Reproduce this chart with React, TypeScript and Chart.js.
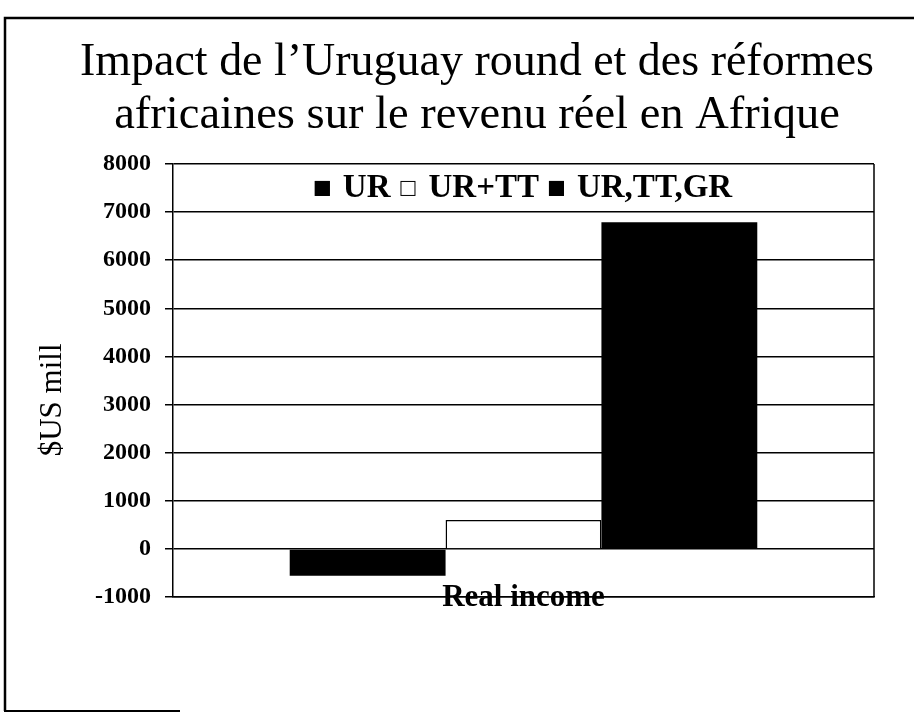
import React, { useEffect, useRef } from "react";
import { Chart, registerables } from "chart.js";

Chart.register(...registerables);

const categories = ["Real income"];
const seriesLabels = ["UR", "UR+TT", "UR,TT,GR"];
const urValues = [-560];
const urTtValues = [600];
const urTtGrValues = [6790];
const titleLines = [
  "Impact de l\u2019Uruguay round et des réformes",
  "africaines sur le revenu réel en Afrique",
];
const yAxisTitle = "$US mill";
const yMin = -1000;
const yMax = 8000;
const yStep = 1000;

const SERIF = '"Liberation Serif", "Times New Roman", serif';

const framePlugin = {
  id: "framePlugin",
  beforeDraw(chart: any) {
    const { ctx, width, height } = chart;
    ctx.save();
    ctx.fillStyle = "#fff";
    ctx.fillRect(0, 0, width, height);
    ctx.strokeStyle = "#000";
    ctx.lineWidth = 2.5;
    ctx.beginPath();
    ctx.moveTo(5, 711);
    ctx.lineTo(5, 18);
    ctx.lineTo(width, 18);
    ctx.stroke();
    ctx.lineWidth = 2;
    ctx.beginPath();
    ctx.moveTo(4, 711);
    ctx.lineTo(180, 711);
    ctx.stroke();
    ctx.restore();
  },
  afterDatasetsDraw(chart: any) {
    const { ctx, chartArea } = chart;
    ctx.save();
    ctx.strokeStyle = "#000";
    ctx.lineWidth = 1.5;
    ctx.beginPath();
    ctx.moveTo(chartArea.right, chartArea.top);
    ctx.lineTo(chartArea.right, chartArea.bottom);
    ctx.stroke();
    ctx.restore();
  },
};

const insideLegend = {
  id: "insideLegend",
  afterDraw(chart: any) {
    const { ctx, chartArea } = chart;
    ctx.save();
    ctx.font = `bold 33px ${SERIF}`;
    const box = 15;
    const gapText = 13;
    const gapItem = 10;
    const items = chart.data.datasets.map((ds: any) => ({
      label: ds.label,
      fill: ds.backgroundColor,
    }));
    const widths = items.map((it: any) => ctx.measureText(it.label).width);
    const total =
      widths.reduce((a: number, w: number) => a + box + gapText + w, 0) +
      gapItem * (items.length - 1);
    let x = (chartArea.left + chartArea.right) / 2 - total / 2;
    const baseline = chartArea.top + 33;
    items.forEach((it: any, i: number) => {
      ctx.fillStyle = it.fill;
      ctx.fillRect(x, baseline - 16, box, box);
      ctx.strokeStyle = "#000";
      ctx.lineWidth = 1;
      ctx.strokeRect(x + 0.5, baseline - 15.5, box - 1, box - 1);
      x += box + gapText;
      ctx.fillStyle = "#000";
      ctx.textBaseline = "alphabetic";
      ctx.textAlign = "left";
      ctx.fillText(it.label, x, baseline);
      x += widths[i] + gapItem;
    });
    ctx.restore();
  },
};

function ChartView() {
  const ref = useRef<HTMLCanvasElement | null>(null);
  useEffect(() => {
    if (!ref.current) return;
    const chart = new Chart(ref.current, {
      type: "bar",
      data: {
        labels: categories,
        datasets: [
          {
            label: seriesLabels[0],
            data: urValues,
            backgroundColor: "#000",
            borderColor: "#000",
            borderWidth: 0,
          },
          {
            label: seriesLabels[1],
            data: urTtValues,
            backgroundColor: "#fff",
            borderColor: "#000",
            borderWidth: 1.5,
          },
          {
            label: seriesLabels[2],
            data: urTtGrValues,
            backgroundColor: "#000",
            borderColor: "#000",
            borderWidth: 0,
          },
        ],
      },
      options: {
        responsive: false,
        animation: false,
        datasets: {
          bar: { categoryPercentage: 0.667, barPercentage: 1.0 },
        },
        layout: { padding: { left: 80, right: 40, top: 0, bottom: 0 } },
        plugins: {
          legend: { display: false },
          tooltip: { enabled: false },
          title: {
            display: true,
            text: titleLines,
            color: "#000",
            font: { family: SERIF, size: 46.5, weight: "normal", lineHeight: 1.15 },
            padding: { top: 36, bottom: 21 },
          },
        },
        scales: {
          x: {
            grid: { display: false, drawTicks: false },
            border: { display: true, color: "#000", width: 1.5 },
            ticks: {
              color: "#000",
              mirror: true,
              font: { family: SERIF, size: 31, weight: "bold" },
              padding: -20,
            },
            afterFit(scale: any) {
              scale.height = 116;
            },
          },
          y: {
            min: yMin,
            max: yMax,
            ticks: {
              stepSize: yStep,
              color: "#000",
              padding: 14,
              font: { family: SERIF, size: 24, weight: "bold" },
              callback: (v: any) => String(v),
            },
            grid: {
              color: "#000",
              lineWidth: 1.5,
              drawTicks: true,
              tickLength: 8,
              tickColor: "#000",
            },
            border: { display: true, color: "#000", width: 1.5 },
            title: {
              display: true,
              text: yAxisTitle + "     ",
              color: "#000",
              font: { family: SERIF, size: 31, weight: "normal", lineHeight: 1.2 },
              padding: { top: -46, bottom: 0 },
            },
            afterFit(scale: any) {
              scale.width = 93;
            },
          },
        },
      },
      plugins: [framePlugin, insideLegend],
    });
    return () => chart.destroy();
  }, []);
  return (
    <div style={{ position: "absolute", left: 0, top: 0, width: 914, height: 713, background: "#fff" }}>
      <canvas ref={ref} width={914} height={713} style={{ display: "block" }} />
    </div>
  );
}

export default function App() {
  return <ChartView />;
}
